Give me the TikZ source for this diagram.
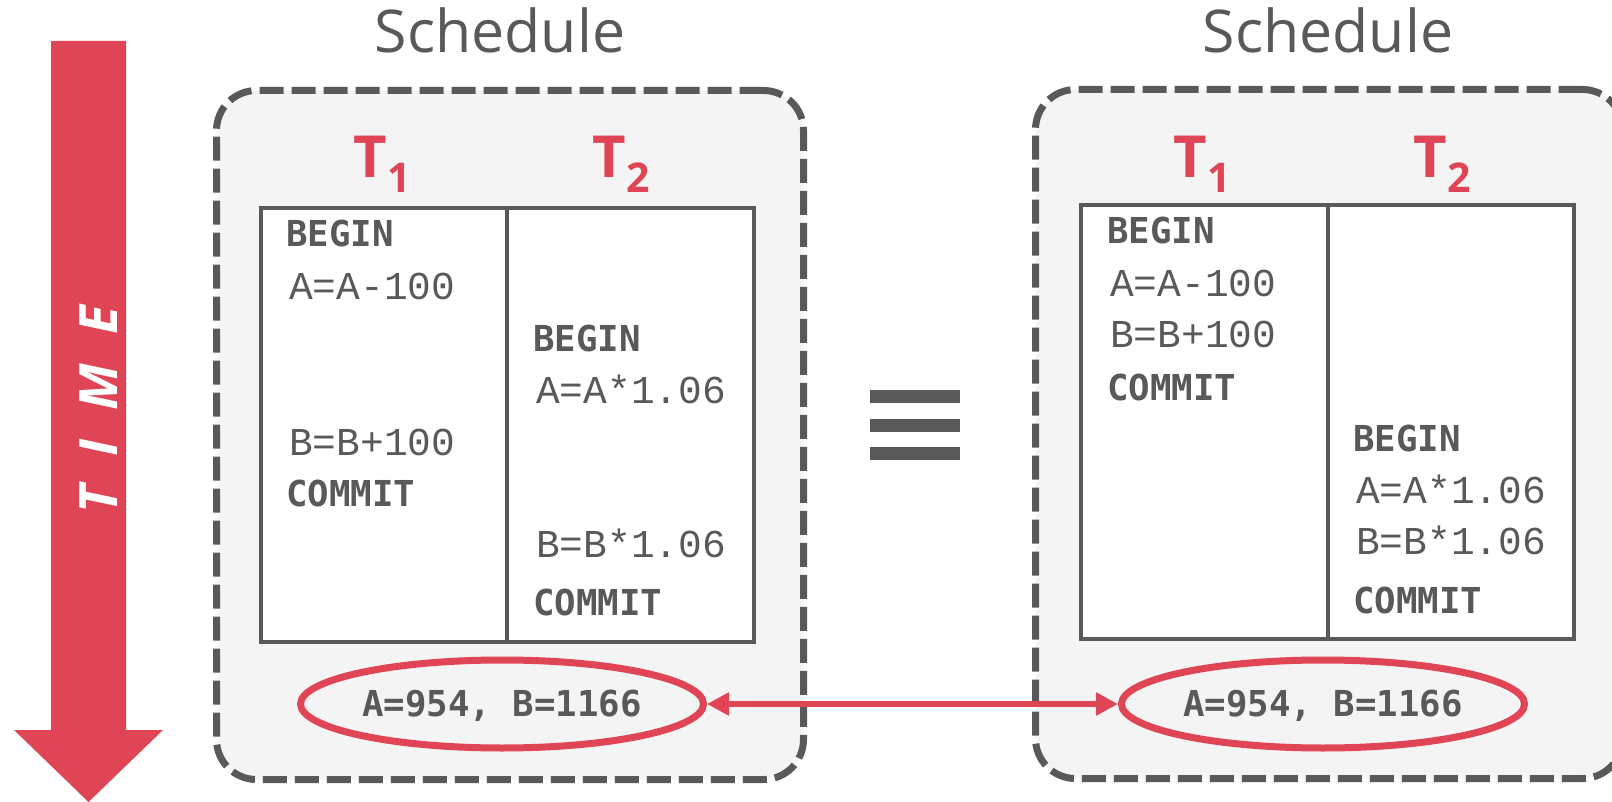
\documentclass[tikz,border=0pt]{standalone}
\usepackage{fontspec}
\setmainfont{Open Sans}
\newfontfamily\codefont{Liberation Mono}
\newfontfamily\kwfont{DejaVu Sans Mono}
\usetikzlibrary{shapes.geometric,arrows.meta}
\definecolor{dgray}{RGB}{89,89,89}
\definecolor{dred}{RGB}{224,69,85}
\definecolor{lgray}{RGB}{244,244,244}
\tikzset{
  sched/.style={draw=dgray, fill=lgray, line width=7pt, dash pattern=on 24pt off 8pt,
    rounded corners=40pt, inner sep=0pt, minimum width=587pt, minimum height=689pt, anchor=north west},
  colbox/.style={draw=dgray, fill=white, line width=4pt, anchor=north west, inner sep=0pt,
    minimum width=246pt, minimum height=434pt},
  kw/.style={anchor=base west, inner sep=0pt, text=dgray, font=\kwfont\bfseries\fontsize{35.7}{40}\selectfont},
  op/.style={anchor=base west, inner sep=0pt, text=dgray, font=\codefont\fontsize{39.5}{44}\selectfont},
  res/.style={ellipse, draw=dred, line width=7pt, inner sep=0pt, minimum width=403pt, minimum height=88pt,
    text=dgray, text height=25pt, text depth=0pt, font=\kwfont\bfseries\fontsize{35.7}{40}\selectfont},
  title/.style={anchor=base, inner sep=0pt, text=dgray, font=\fontsize{59}{64}\selectfont},
  tlabel/.style={anchor=base, inner sep=0pt, text=dred, font=\bfseries\fontsize{58}{64}\selectfont},
  bar/.style={fill=dgray},
}
\newcommand{\tsub}[1]{T\raisebox{-15pt}{\fontsize{41}{44}\selectfont #1}}
\begin{document}
\begin{tikzpicture}[x=1pt, y=-1pt]
\useasboundingbox (0,0) rectangle (1612,802);
\clip (0,0) rectangle (1612,802);

% time arrow
\fill[dred] (51,41) -- (126,41) -- (126,730) -- (163,730) -- (88.5,802) -- (14,730) -- (51,730) -- cycle;
\node[rotate=90, anchor=base, inner sep=0pt, text=white, font=\bfseries\itshape\fontsize{53}{56}\selectfont]
  (time) at (117,410) {T\hspace{29pt}I\hspace{29pt}M\hspace{29pt}E};

% titles
\node[title] (s1) at (500,53) {Schedule};
\node[title] (s2) at (1328,53) {Schedule};

% schedule boxes
\node[sched] (box1) at (213,87) {};
\node[sched] (box2) at (1032,86) {};

% transaction labels
\node[tlabel] (l1t1) at (382,178) {\tsub{1}};
\node[tlabel] (l1t2) at (621,178) {\tsub{2}};
\node[tlabel] (r1t1) at (1202,178) {\tsub{1}};
\node[tlabel] (r1t2) at (1442,178) {\tsub{2}};

% tables
\node[colbox] (lc1) at (259,206) {};
\node[colbox, minimum width=247pt] (lc2) at (505,206) {};
\node[colbox, minimum width=247pt] (rc1) at (1079,203) {};
\node[colbox] (rc2) at (1326,203) {};

% left schedule
\node[kw] (la1) at (286,247) {BEGIN};
\node[op] (la2) at (289,300) {A=A-100};
\node[kw] (lb1) at (533,352) {BEGIN};
\node[op] (lb2) at (536,403) {A=A*1.06};
\node[op] (la3) at (289,455) {B=B+100};
\node[kw] (la4) at (286,506) {COMMIT};
\node[op] (lb3) at (536,557) {B=B*1.06};
\node[kw] (lb4) at (533,615) {COMMIT};

% right schedule
\node[kw] (ra1) at (1107,244) {BEGIN};
\node[op] (ra2) at (1110,297) {A=A-100};
\node[op] (ra3) at (1110,348) {B=B+100};
\node[kw] (ra4) at (1107,400) {COMMIT};
\node[kw] (rb1) at (1353,451) {BEGIN};
\node[op] (rb2) at (1356,503) {A=A*1.06};
\node[op] (rb3) at (1356,554) {B=B*1.06};
\node[kw] (rb4) at (1353,613) {COMMIT};

% equivalence sign
\fill[bar] (870,390) rectangle (960,403);
\fill[bar] (870,418.5) rectangle (960,431.5);
\fill[bar] (870,447) rectangle (960,460);

% results
\node[res] (LE) at (502,704) {A=954, B=1166};
\node[res] (RE) at (1323,704) {A=954, B=1166};
\draw[dred, line width=6.5pt, {Triangle[length=22pt,width=22pt]}-{Triangle[length=22pt,width=22pt]}] (LE.east) -- (RE.west);
\end{tikzpicture}
\end{document}
